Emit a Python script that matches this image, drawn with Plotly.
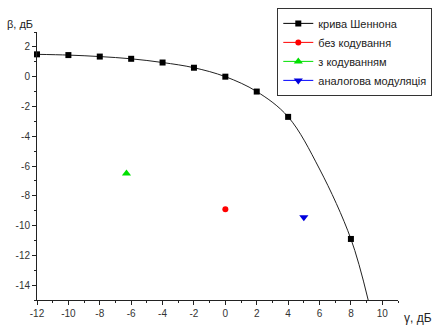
import plotly.graph_objects as go

# Shannon curve markers
shannon_x = [-12, -10, -8, -6, -4, -2, 0, 2, 4, 8]
shannon_y = [1.5, 1.45, 1.35, 1.2, 0.95, 0.6, 0.0, -1.0, -2.7, -10.9]
# curve line (continues below the axis)
curve_x = [-12, -10, -8, -6, -4, -2, 0, 2, 4, 6, 8, 9.1]
curve_y = [1.5, 1.45, 1.35, 1.2, 0.95, 0.6, 0.0, -1.0, -2.7, -6.2, -10.9, -15.0]

nocode_x = [0]
nocode_y = [-8.9]
code_x = [-6.3]
code_y = [-6.5]
analog_x = [5.0]
analog_y = [-9.45]

names = ["крива Шеннона", "без кодування", "з кодуванням", "аналогова модуляція"]

x_ticks = list(range(-12, 11, 2))
y_ticks = list(range(-14, 3, 2))

FONT = "Liberation Sans, Arial, sans-serif"

fig = go.Figure()
# legend proxy for the Shannon curve (line + marker symbol)
fig.add_trace(go.Scatter(x=[None], y=[None], mode="lines+markers", name=names[0],
                         line=dict(color="black", width=1), marker=dict(symbol="square", size=6, color="black")))
fig.add_trace(go.Scatter(x=curve_x, y=curve_y, mode="lines", line=dict(color="#222", width=1, shape="spline"),
                         showlegend=False, hoverinfo="skip"))
fig.add_trace(go.Scatter(x=shannon_x, y=shannon_y, mode="markers", showlegend=False,
                         marker=dict(symbol="square", size=6, color="black"), cliponaxis=False))
fig.add_trace(go.Scatter(x=nocode_x, y=nocode_y, mode="lines+markers", name=names[1],
                         line=dict(color="red", width=1), marker=dict(symbol="circle", size=6, color="red")))
fig.add_trace(go.Scatter(x=code_x, y=code_y, mode="lines+markers", name=names[2],
                         line=dict(color="#00e000", width=1), marker=dict(symbol="triangle-up", size=8, color="#00e000")))
fig.add_trace(go.Scatter(x=analog_x, y=analog_y, mode="lines+markers", name=names[3],
                         line=dict(color="blue", width=1), marker=dict(symbol="triangle-down", size=8, color="#0000dd")))

fig.update_layout(
    width=442, height=328,
    margin=dict(l=37, r=44, t=32, b=28, autoexpand=False),
    paper_bgcolor="white", plot_bgcolor="white",
    font=dict(family=FONT, size=10, color="#222"),
    legend=dict(x=1.095, y=1.09, xanchor="right", yanchor="top", xref="paper", yref="paper",
                bordercolor="#333", borderwidth=1, bgcolor="white",
                font=dict(family=FONT, size=11, color="#222"),
                itemwidth=30, tracegroupgap=0),
    showlegend=True,
)
fig.update_xaxes(range=[-12, 11], showgrid=False, zeroline=False, showline=True, linecolor="#222", linewidth=1,
                 ticks="outside", ticklen=4, tickcolor="#222", tickfont=dict(size=10, color="#333"),
                 tickvals=x_ticks, ticktext=[str(v) for v in x_ticks],
                 minor=dict(ticks="outside", ticklen=2, dtick=1, tick0=-12, tickcolor="#222"))
fig.update_yaxes(range=[-15, 3], showgrid=False, zeroline=False, showline=True, linecolor="#222", linewidth=1,
                 ticks="outside", ticklen=4, tickcolor="#222", tickfont=dict(size=10, color="#333"),
                 tickvals=y_ticks, ticktext=[str(v) for v in y_ticks],
                 minor=dict(ticks="outside", ticklen=2, dtick=1, tick0=-15, tickcolor="#222"))

fig.add_annotation(text="β, дБ", xref="paper", yref="paper", x=-0.09, y=1.0, xanchor="left", yanchor="bottom",
                   showarrow=False, font=dict(family=FONT, size=11, color="#222"))
fig.add_annotation(text="γ, дБ", xref="paper", yref="paper", x=1.01, y=-0.035, xanchor="left", yanchor="top",
                   showarrow=False, font=dict(family=FONT, size=12, color="#222"))

fig.write_html("out.html")
